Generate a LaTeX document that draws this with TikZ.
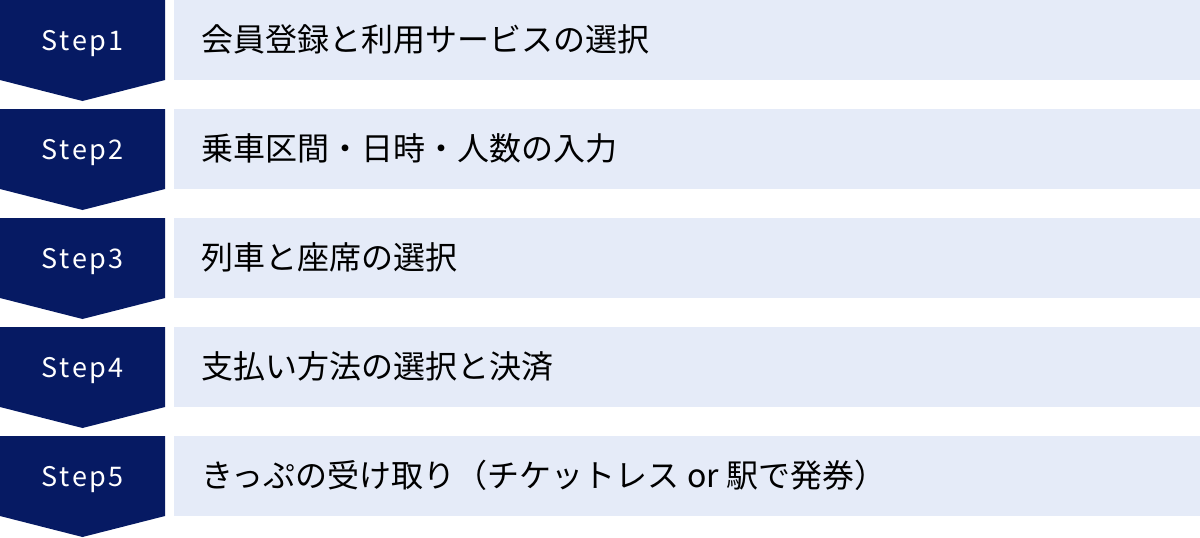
\documentclass[tikz,border=0pt]{standalone}
\usepackage{fontspec}
\setmainfont{Noto Sans CJK JP}
\definecolor{navy}{HTML}{061A63}
\definecolor{pale}{HTML}{E5EBF8}
\newcommand{\stepword}[1]{S\kern2.2pt t\kern2.2pt e\kern2.2pt p\kern2.2pt #1}
\tikzset{
  stepshape/.style={fill=navy, draw=none},
  band/.style={fill=pale, draw=none},
  steplabel/.style={text=white, font=\fontsize{27}{27}\selectfont, inner sep=0pt, anchor=base},
  desc/.style={text=black, font=\fontsize{32}{32}\selectfont, inner sep=0pt, anchor=base west}
}
\begin{document}
\begin{tikzpicture}[x=1pt,y=-1pt]
\useasboundingbox (0,0) rectangle (1200,538);
\foreach \i/\txt in {1/会員登録と利用サービスの選択,2/乗車区間・日時・人数の入力,3/列車と座席の選択,4/支払い方法の選択と決済,5/きっぷの受け取り（チケットレス or 駅で発券）}{
  \pgfmathsetmacro{\t}{109*(\i-1)}
  \path[stepshape] (0,\t) -- (165,\t) -- (165,\t+80) -- (82.5,\t+101) -- (0,\t+80) -- cycle;
  \path[band] (174,\t) rectangle (1200,\t+80);
  \node[steplabel] (s\i) at (82.5,\t+50) {\stepword{\i}};
  \node[desc] (d\i) at (201,\t+51.2) {\txt};
}
\end{tikzpicture}
\end{document}
